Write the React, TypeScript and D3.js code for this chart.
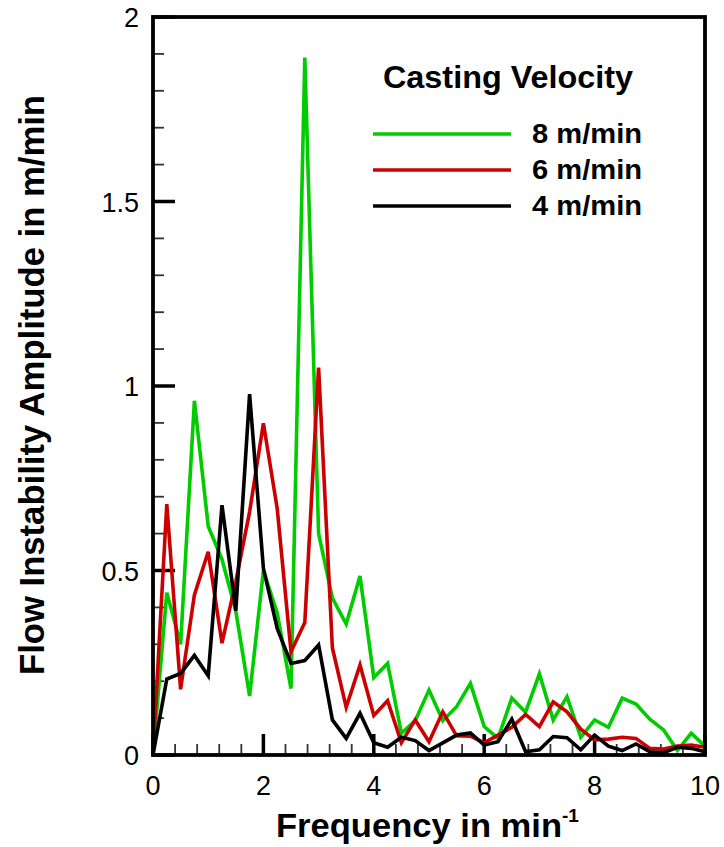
import React from "react";
import * as d3 from "d3";

const freq = [0, 0.25, 0.5, 0.75, 1, 1.25, 1.5, 1.75, 2, 2.25, 2.5, 2.75, 3, 3.25, 3.5, 3.75, 4, 4.25, 4.5, 4.75, 5, 5.25, 5.5, 5.75, 6, 6.25, 6.5, 6.75, 7, 7.25, 7.5, 7.75, 8, 8.25, 8.5, 8.75, 9, 9.25, 9.5, 9.75, 10];

const v8 = [0, 0.44, 0.3, 0.96, 0.62, 0.53, 0.39, 0.16, 0.5, 0.385, 0.18, 1.89, 0.6, 0.425, 0.355, 0.485, 0.21, 0.248, 0.059, 0.093, 0.176, 0.093, 0.131, 0.194, 0.077, 0.045, 0.154, 0.116, 0.22, 0.095, 0.158, 0.048, 0.095, 0.075, 0.154, 0.138, 0.097, 0.068, 0.012, 0.059, 0.024];

const v6 = [0, 0.68, 0.178, 0.434, 0.551, 0.303, 0.47, 0.659, 0.899, 0.668, 0.28, 0.359, 1.05, 0.29, 0.129, 0.244, 0.107, 0.147, 0.033, 0.095, 0.036, 0.117, 0.052, 0.051, 0.033, 0.054, 0.075, 0.11, 0.077, 0.144, 0.117, 0.07, 0.041, 0.043, 0.048, 0.045, 0.018, 0.016, 0.024, 0.027, 0.021];

const v4 = [0, 0.206, 0.221, 0.27, 0.215, 0.677, 0.391, 0.978, 0.506, 0.343, 0.248, 0.256, 0.298, 0.095, 0.045, 0.113, 0.033, 0.021, 0.048, 0.039, 0.012, 0.033, 0.054, 0.06, 0.027, 0.036, 0.097, 0.009, 0.014, 0.05, 0.047, 0.014, 0.054, 0.024, 0.012, 0.03, 0.009, 0.006, 0.021, 0.018, 0.009];

const seriesNames = ["8 m/min", "6 m/min", "4 m/min"];
const seriesColors = ["#00cc00", "#cc0000", "#000000"];
const xMajorTicks = [0, 2, 4, 6, 8, 10];
const yMajorTicks = [0, 0.5, 1, 1.5, 2];
const yTickLabels = ["0", "0.5", "1", "1.5", "2"];
const legendTitle = "Casting Velocity";

const FONT = "'Liberation Sans', Arial, Helvetica, sans-serif";

export default function App() {
  const W = 724, H = 847;
  const L = 153, R = 705, T = 17, B = 755;
  const x = d3.scaleLinear().domain([0, 10]).range([L, R]);
  const y = d3.scaleLinear().domain([0, 2]).range([B, T]);
  const series = [v8, v6, v4];
  const line = d3.line<number>().x((_, i) => x(freq[i])).y((d) => y(d));

  const xMinor = d3.range(0, 10.001, 0.4).filter((t) => !xMajorTicks.some((m) => Math.abs(m - t) < 1e-6));
  const yMinor = d3.range(0, 2.001, 0.1).filter((t) => !yMajorTicks.some((m) => Math.abs(m - t) < 1e-6));

  return (
    <svg width={W} height={H} style={{ position: "absolute", left: 0, top: 0, background: "#fff" }} fontFamily={FONT}>
      {/* minor ticks */}
      {xMinor.map((t) => (
        <line key={"xm" + t} x1={x(t)} x2={x(t)} y1={B} y2={B - 11} stroke="#333" strokeWidth={1.8} />
      ))}
      {yMinor.map((t) => (
        <line key={"ym" + t} x1={L} x2={L + 11} y1={y(t)} y2={y(t)} stroke="#333" strokeWidth={1.8} />
      ))}
      {/* major ticks */}
      {xMajorTicks.map((t) => (
        <line key={"xM" + t} x1={x(t)} x2={x(t)} y1={B} y2={B - 21} stroke="#000" strokeWidth={3.5} />
      ))}
      {yMajorTicks.map((t) => (
        <line key={"yM" + t} x1={L} x2={L + 22} y1={y(t)} y2={y(t)} stroke="#000" strokeWidth={3.5} />
      ))}
      {/* data */}
      {series.map((s, i) => (
        <path key={"s" + i} d={line(s) || ""} fill="none" stroke={seriesColors[i]} strokeWidth={3.6} strokeLinejoin="miter" />
      ))}
      {/* frame */}
      <rect x={L} y={T} width={R - L} height={B - T} fill="none" stroke="#000" strokeWidth={3.8} />
      {/* tick labels */}
      {xMajorTicks.map((t) => (
        <text key={"xl" + t} x={x(t)} y={795} textAnchor="middle" fontSize={27} fill="#000">
          {String(t)}
        </text>
      ))}
      {yMajorTicks.map((t, i) => (
        <text key={"yl" + t} x={139} y={y(t) + 10} textAnchor="end" fontSize={27} fill="#000">
          {yTickLabels[i]}
        </text>
      ))}
      {/* axis titles */}
      <text x={276} y={837} fontSize={33} fontWeight="bold" fill="#000">
        <tspan textLength={286} lengthAdjust="spacingAndGlyphs">Frequency in min</tspan>
        <tspan fontSize={19} dy={-15}>-1</tspan>
      </text>
      <text transform={`translate(44,385) rotate(-90)`} textAnchor="middle" fontSize={35} fontWeight="bold" fill="#000" textLength={580} lengthAdjust="spacingAndGlyphs">
        Flow Instability Amplitude in m/min
      </text>
      {/* legend */}
      <text x={383} y={88} fontSize={31} fontWeight="bold" fill="#000" textLength={250} lengthAdjust="spacingAndGlyphs">{legendTitle}</text>
      {seriesNames.map((n, i) => (
        <g key={"lg" + i}>
          <line x1={373} x2={511} y1={134 + i * 36} y2={134 + i * 36} stroke={seriesColors[i]} strokeWidth={3.5} />
          <text x={532} y={143 + i * 36} fontSize={28} fontWeight="bold" fill="#000" textLength={110} lengthAdjust="spacingAndGlyphs">{n}</text>
        </g>
      ))}
    </svg>
  );
}
